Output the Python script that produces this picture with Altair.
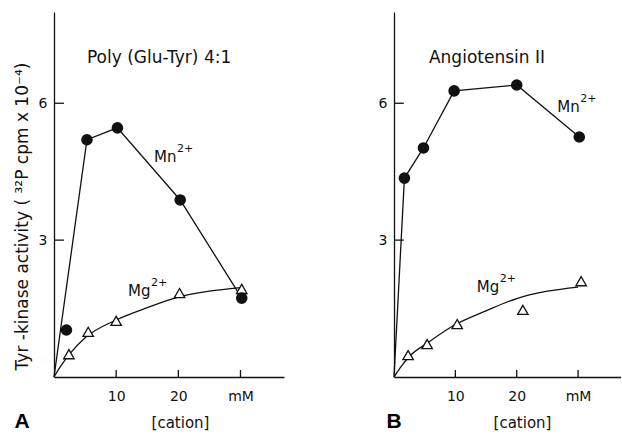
import altair as alt
import pandas as pd

# ---------------- data ----------------
# Panel A: Poly (Glu-Tyr) 4:1
a_mn_x = [2.0, 5.3, 10.2, 20.3, 30.2]
a_mn_y = [1.03, 5.2, 5.46, 3.88, 1.73]
a_mn_line_x = [0.0, 5.3, 10.2, 20.3, 30.2]
a_mn_line_y = [0.0, 5.2, 5.46, 3.88, 1.73]
a_mg_x = [2.4, 5.5, 10.0, 20.2, 30.2]
a_mg_y = [0.5, 0.99, 1.23, 1.84, 1.93]
a_fit_x = [0, 1, 2.5, 5, 10, 15, 20, 25, 30]
a_fit_y = [0, 0.22, 0.5, 0.86, 1.25, 1.52, 1.75, 1.88, 1.96]

# Panel B: Angiotensin II
b_mn_x = [1.7, 4.8, 9.8, 20.0, 30.2]
b_mn_y = [4.36, 5.02, 6.27, 6.4, 5.26]
b_mn_line_x = [0.0, 1.7, 4.8, 9.8, 20.0, 30.2]
b_mn_line_y = [0.0, 4.36, 5.02, 6.27, 6.4, 5.26]
b_mg_x = [2.3, 5.4, 10.3, 21.0, 30.5]
b_mg_y = [0.48, 0.72, 1.16, 1.47, 2.1]
b_fit_x = [0, 1, 2.5, 5.5, 10, 15, 20, 25, 30]
b_fit_y = [0, 0.2, 0.45, 0.75, 1.15, 1.45, 1.72, 1.88, 1.97]

x_ticks = [10, 20, 30]
y_ticks = [3, 6]

FONT = "DejaVu Sans"
INK = "#111111"
H = 365


def df(x, y):
    return pd.DataFrame({"x": x, "y": y})


def panel(mn_x, mn_y, mnl_x, mnl_y, mg_x, mg_y, fit_x, fit_y,
          title, title_xy, mn_xy, mg_xy, letter, width, ytitle, xtitle_x):
    xs = alt.Scale(domain=[0, 37], nice=False, zero=False)
    ys = alt.Scale(domain=[0, 8], nice=False, zero=False)
    x_axis = alt.Axis(values=x_ticks, labelExpr="datum.value == 30 ? 'mM' : datum.label",
                      ticks=False, grid=False, domainColor=INK, domainWidth=1.3,
                      labelFont=FONT, labelFontSize=14, labelColor=INK, labelPadding=12,
                      title="[cation]", titleFont=FONT, titleFontSize=15,
                      titleFontWeight="normal", titleColor=INK,
                      titleX=xtitle_x, titleY=45, titleAlign="center", titleBaseline="middle")
    if ytitle:
        y_axis = alt.Axis(values=y_ticks, ticks=False, grid=False, domainColor=INK,
                          domainWidth=1.3, labelFont=FONT, labelFontSize=14,
                          labelColor=INK, labelPadding=7,
                          title=ytitle, titleFont=FONT, titleFontSize=17,
                          titleFontWeight="normal", titleColor=INK,
                          titleX=-32, titleY=204, titleAngle=270,
                          titleAlign="center", titleBaseline="middle")
    else:
        y_axis = alt.Axis(values=y_ticks, ticks=False, grid=False, domainColor=INK,
                          domainWidth=1.3, labelFont=FONT, labelFontSize=14,
                          labelColor=INK, labelPadding=7, title=None)

    X = alt.X("x:Q", scale=xs, axis=x_axis)
    Y = alt.Y("y:Q", scale=ys, axis=y_axis)
    Xn = alt.X("x:Q", scale=xs)
    Yn = alt.Y("y:Q", scale=ys)

    fit = alt.Chart(df(fit_x, fit_y)).mark_line(
        color=INK, strokeWidth=1.3, interpolate="monotone").encode(x=X, y=Y)
    mn_line = alt.Chart(df(mnl_x, mnl_y)).mark_line(
        color=INK, strokeWidth=1.3).encode(x=Xn, y=Yn)
    mn_pts = alt.Chart(df(mn_x, mn_y)).mark_point(
        shape="circle", filled=True, color=INK, size=135, opacity=1).encode(x=Xn, y=Yn)
    mg_pts = alt.Chart(df(mg_x, mg_y)).mark_point(
        shape="triangle-up", filled=True, fill="white", stroke=INK, strokeWidth=1.3,
        size=110, opacity=1).encode(x=Xn, y=Yn)

    # inward-pointing ticks, as in the original
    xt = alt.Chart(pd.DataFrame({"x": x_ticks})).mark_rule(
        color=INK, strokeWidth=1.3).encode(x=Xn, y=alt.value(H), y2=alt.value(H - 7))
    yt = alt.Chart(pd.DataFrame({"y": y_ticks, "x": [0, 0], "x2": [1.6, 1.6]})).mark_rule(
        color=INK, strokeWidth=1.3).encode(y=Yn, x=Xn, x2="x2:Q")

    def label(txt, xy, size, dx=0, dy=0):
        return alt.Chart(pd.DataFrame({"x": [xy[0]], "y": [xy[1]], "t": [txt]})).mark_text(
            align="left", baseline="middle", font=FONT, fontSize=size, color=INK,
            dx=dx, dy=dy).encode(x=Xn, y=Yn, text="t:N")

    t1 = label(title, title_xy, 17)
    mn1 = label("Mn", mn_xy, 15)
    mn2 = label("2+", mn_xy, 11, dx=23, dy=-8)
    mg1 = label("Mg", mg_xy, 15)
    mg2 = label("2+", mg_xy, 11, dx=23, dy=-8)

    let = alt.Chart(pd.DataFrame({"t": [letter]})).mark_text(
        align="center", baseline="middle", font="Liberation Sans", fontSize=21,
        fontWeight="bold", color="#000000").encode(
        x=alt.value(-32 if letter == "A" else 0), y=alt.value(H + 45), text="t:N")

    return alt.layer(fit, mn_line, mg_pts, mn_pts, xt, yt, t1, mn1, mn2, mg1, mg2, let
                     ).properties(width=width, height=H)


pa = panel(a_mn_x, a_mn_y, a_mn_line_x, a_mn_line_y, a_mg_x, a_mg_y, a_fit_x, a_fit_y,
           "Poly (Glu-Tyr)  4:1", (5.3, 7.0), (16.1, 4.82), (11.9, 1.89), "A", 230,
           "Tyr -kinase  activity ( \u00b3\u00b2P cpm x 10\u207b\u2074)", 126)
pb = panel(b_mn_x, b_mn_y, b_mn_line_x, b_mn_line_y, b_mg_x, b_mg_y, b_fit_x, b_fit_y,
           "Angiotensin  II", (5.7, 7.0), (26.6, 5.92), (13.5, 1.97), "B", 227,
           None, 128)

chart = alt.hconcat(pa, pb, spacing=94).properties(
    padding={"left": 12, "top": 12, "right": 0, "bottom": 0},
    background="white",
).configure_view(strokeWidth=0)

chart.save("out.html", embed_options={"renderer": "svg", "actions": False})
